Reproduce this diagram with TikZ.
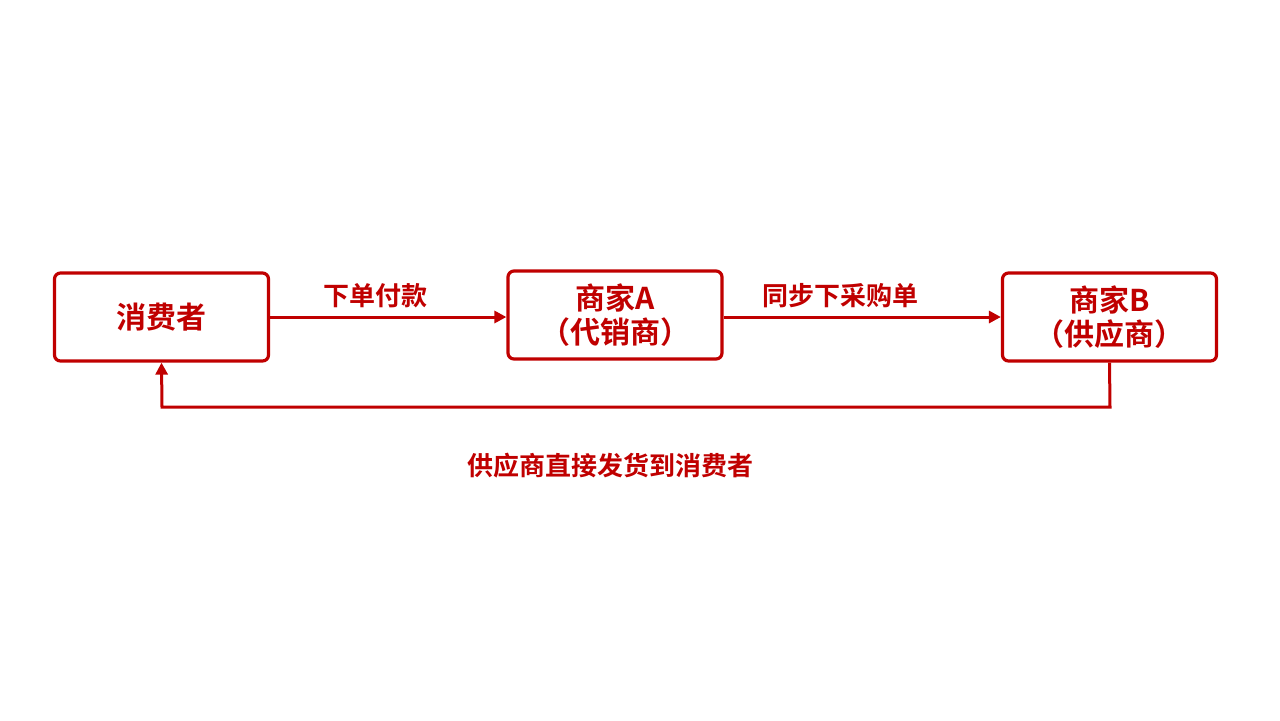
\documentclass[tikz,border=0pt]{standalone}
\usepackage{fontspec}
\newfontfamily\cjk{Noto Sans CJK SC Bold}
\usetikzlibrary{arrows.meta}
\definecolor{dred}{HTML}{C00000}
\begin{document}
\begin{tikzpicture}[x=0.5pt,y=-0.5pt,
  box/.style={draw=dred,line width=1.6pt,rounded corners=3pt,fill=white,minimum width=107pt,minimum height=44pt,inner sep=0pt,align=center,text=dred,font=\cjk\fontsize{15}{17}\selectfont},
  conn/.style={draw=dred,line width=1.5pt,-{Triangle[length=6pt,width=6pt]}},
  lab/.style={text=dred,font=\cjk\fontsize{13}{15}\selectfont,inner sep=0pt}]
\useasboundingbox (0,0) rectangle (1280,720);
\node[box] (c) at (161.5,317) {消费者};
\node[box] (a) at (615,315) {商家A\\（代销商）};
\node[box] (b) at (1109.5,317) {商家B\\（供应商）};
\draw[conn] (c.east) -- (c.east -| a.west);
\draw[conn] (a.east |- b.west) -- (b.west);
\coordinate (k1) at (1110,407);
\coordinate (k2) at (162,407);
\draw[conn] (b.south) -- (k1) -- (k2) -- (c.south);
\node[lab] (l1) at (375,296) {下单付款};
\node[lab] (l2) at (840,296) {同步下采购单};
\node[lab] (l3) at (610,466) {供应商直接发货到消费者};
\end{tikzpicture}
\end{document}
